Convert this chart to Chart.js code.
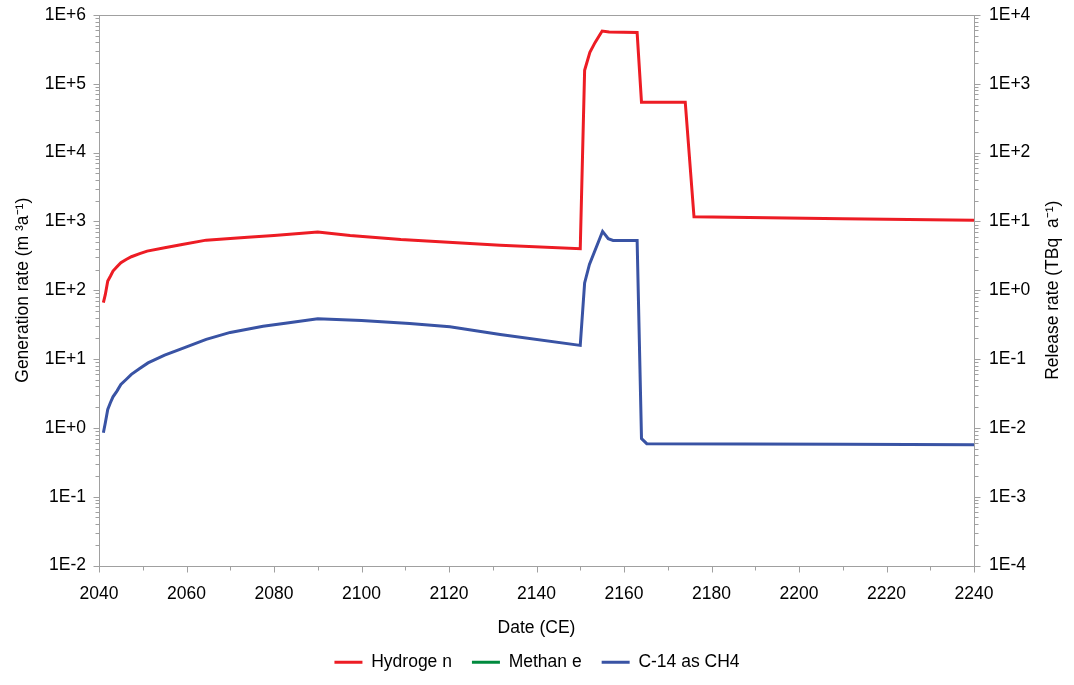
<!DOCTYPE html>
<html>
<head>
<meta charset="utf-8">
<script src="https://cdn.jsdelivr.net/npm/chart.js@4.4.1/dist/chart.umd.min.js"></script>
<style>
html, body { margin: 0; padding: 0; background: #ffffff; }
#wrap { width: 1074px; height: 685px; }
</style>
</head>
<body>
<div id="wrap"><canvas id="gasChart" width="1074" height="685"></canvas></div>
<script>
// ================================
// DATA
// ================================

const hydrogenYears = [2041, 2041.45, 2042, 2042.6, 2043.2, 2044.1, 2045, 2046.2, 2047.4, 2049.3, 2051, 2055,
    2059, 2064.5, 2070, 2074, 2080, 2090, 2097.4, 2109, 2131.7, 2150,
    2151, 2152.2, 2153.4, 2155, 2156.6, 2163, 2164, 2174, 2176, 2210, 2240];
// m3 per year (left axis)
const hydrogenRate = [66, 87, 136, 160, 190, 219, 251, 280, 307, 340, 370, 415,
    463, 535, 565, 590, 627, 705, 627, 547, 452, 401,
    157000, 286000, 400000, 585000, 565000, 555000, 54000, 54000, 1170, 1096, 1044];

const methaneYears = [];
const methaneRate = [];

const c14Years = [2041, 2041.45, 2042, 2042.6, 2043.2, 2044.1, 2045, 2046.2, 2047.4, 2049.3, 2051.2, 2055,
    2058.8, 2064.5, 2070, 2077.5, 2083, 2090, 2100, 2111, 2120.2, 2131.7, 2150,
    2151, 2152.1, 2155.1, 2156.4, 2157.5, 2163, 2164, 2165.2, 2210, 2240];
// TBq per year (right axis)
const c14Rate = [0.0085, 0.0119, 0.0185, 0.0232, 0.0283, 0.0342, 0.0427, 0.0505, 0.060, 0.073, 0.088, 0.114,
    0.141, 0.193, 0.244, 0.30, 0.335, 0.385, 0.364, 0.329, 0.295, 0.228, 0.158,
    1.28, 2.37, 7.16, 5.6, 5.3, 5.3, 0.0070, 0.0059, 0.0058, 0.0057];

const xTicks = [2040, 2060, 2080, 2100, 2120, 2140, 2160, 2180, 2200, 2220, 2240];
const leftTicks = [1e-2, 1e-1, 1e0, 1e1, 1e2, 1e3, 1e4, 1e5, 1e6];
const rightTicks = [1e-4, 1e-3, 1e-2, 1e-1, 1e0, 1e1, 1e2, 1e3, 1e4];

const xTitle = "Date (CE)";
const leftTitle = "Generation rate (m \u00b3a\u207b\u00b9)";
const rightTitle = "Release rate (TBq  a\u207b\u00b9)";

const toPoints = (xs, ys) => xs.map((x, i) => ({ x: x, y: ys[i] }));

const sciLabel = v => {
    const e = Math.round(Math.log10(v));
    return "1E" + (e >= 0 ? "+" : "-") + Math.abs(e);
};

const FONT = "'Liberation Sans', Arial, sans-serif";
const AXIS_GREY = "#a0a0a0";

// ================================
// FRAME, TICK MARKS, AXIS TITLES
// ================================

const framePlugin = {
    id: "frame",
    afterDraw(chart) {
        const ctx = chart.ctx;
        const a = chart.chartArea;
        ctx.save();
        ctx.strokeStyle = AXIS_GREY;
        ctx.lineWidth = 1;
        ctx.strokeRect(Math.round(a.left) + 0.5, Math.round(a.top) + 0.5,
            Math.round(a.right - a.left), Math.round(a.bottom - a.top));

        const drawLogTicks = (scale, side) => {
            const lo = Math.round(Math.log10(scale.min));
            const hi = Math.round(Math.log10(scale.max));
            const xEdge = side === "left" ? Math.round(a.left) + 0.5 : Math.round(a.right) + 0.5;
            for (let e = lo; e <= hi; e++) {
                for (let m = 1; m <= 9; m++) {
                    const v = m * Math.pow(10, e);
                    if (v > scale.max * 1.0001) break;
                    const y = Math.round(scale.getPixelForValue(v)) + 0.5;
                    const len = m === 1 ? 6 : 4;
                    ctx.beginPath();
                    if (side === "left") {
                        ctx.moveTo(xEdge - len, y);
                        ctx.lineTo(xEdge, y);
                    } else {
                        ctx.moveTo(xEdge, y);
                        ctx.lineTo(xEdge + len, y);
                    }
                    ctx.stroke();
                }
            }
        };

        drawLogTicks(chart.scales.y, "left");
        drawLogTicks(chart.scales.y2, "right");

        const xs = chart.scales.x;
        for (let yr = xs.min; yr <= xs.max; yr += 10) {
            const x = Math.round(xs.getPixelForValue(yr)) + 0.5;
            const len = yr % 20 === 0 ? 6 : 4;
            ctx.beginPath();
            ctx.moveTo(x, Math.round(a.bottom) + 0.5);
            ctx.lineTo(x, Math.round(a.bottom) + 0.5 + len);
            ctx.stroke();
        }

        // axis titles (both vertical titles read bottom-to-top)
        ctx.fillStyle = "#000000";
        ctx.font = "17.5px " + FONT;
        ctx.textAlign = "center";
        ctx.textBaseline = "middle";
        ctx.fillText(xTitle, (a.left + a.right) / 2, 628);

        const midY = (a.top + a.bottom) / 2;
        [[23, leftTitle], [1053, rightTitle]].forEach(([tx, text]) => {
            ctx.save();
            ctx.translate(tx, midY);
            ctx.rotate(-Math.PI / 2);
            ctx.fillText(text, 0, 0);
            ctx.restore();
        });

        ctx.restore();
    }
};

// ================================
// CHART
// ================================

const gasCtx = document.getElementById("gasChart");

new Chart(gasCtx, {
    type: "line",

    data: {
        datasets: [
            {
                label: "Hydroge n",
                data: toPoints(hydrogenYears, hydrogenRate),
                borderColor: "#ed1c24",
                backgroundColor: "#ed1c24",
                borderWidth: 3,
                pointRadius: 0,
                tension: 0,
                yAxisID: "y"
            },
            {
                label: "Methan e",
                data: toPoints(methaneYears, methaneRate),
                borderColor: "#008a3e",
                backgroundColor: "#008a3e",
                borderWidth: 3,
                pointRadius: 0,
                tension: 0,
                yAxisID: "y"
            },
            {
                label: "C-14 as CH4",
                data: toPoints(c14Years, c14Rate),
                borderColor: "#3953a4",
                backgroundColor: "#3953a4",
                borderWidth: 3,
                pointRadius: 0,
                tension: 0,
                yAxisID: "y2"
            }
        ]
    },

    plugins: [framePlugin],

    options: {
        responsive: false,
        animation: false,
        devicePixelRatio: 1,

        layout: {
            padding: { top: 15, left: 0, right: 0, bottom: 4 }
        },

        plugins: {
            legend: {
                position: "bottom",
                labels: {
                    usePointStyle: true,
                    pointStyle: "line",
                    pointStyleWidth: 28,
                    padding: 20,
                    color: "#000000",
                    font: { family: FONT, size: 17.5 }
                }
            },
            tooltip: { enabled: false }
        },

        scales: {
            x: {
                type: "linear",
                min: 2040,
                max: 2240,
                afterBuildTicks: s => { s.ticks = xTicks.map(v => ({ value: v })); },
                afterFit: s => { s.height = 68; },
                grid: { display: false, drawTicks: false },
                border: { display: false },
                ticks: {
                    padding: 18,
                    maxRotation: 0,
                    autoSkip: false,
                    color: "#000000",
                    font: { family: FONT, size: 17.5 },
                    callback: v => String(v)
                }
            },

            y: {
                type: "logarithmic",
                position: "left",
                min: 1e-2,
                max: 1e6,
                afterBuildTicks: s => { s.ticks = leftTicks.map(v => ({ value: v })); },
                afterFit: s => { s.width = 99; s.paddingTop = 0; s.paddingBottom = 0; },
                grid: { display: false, drawTicks: false },
                border: { display: false },
                ticks: {
                    padding: 13,
                    autoSkip: false,
                    color: "#000000",
                    font: { family: FONT, size: 17.5 },
                    callback: v => sciLabel(v)
                }
            },

            y2: {
                type: "logarithmic",
                position: "right",
                min: 1e-4,
                max: 1e4,
                afterBuildTicks: s => { s.ticks = rightTicks.map(v => ({ value: v })); },
                afterFit: s => { s.width = 100; s.paddingTop = 0; s.paddingBottom = 0; },
                grid: { display: false, drawTicks: false },
                border: { display: false },
                ticks: {
                    padding: 15,
                    autoSkip: false,
                    color: "#000000",
                    font: { family: FONT, size: 17.5 },
                    callback: v => sciLabel(v)
                }
            }
        }
    }
});
</script>
</body>
</html>
